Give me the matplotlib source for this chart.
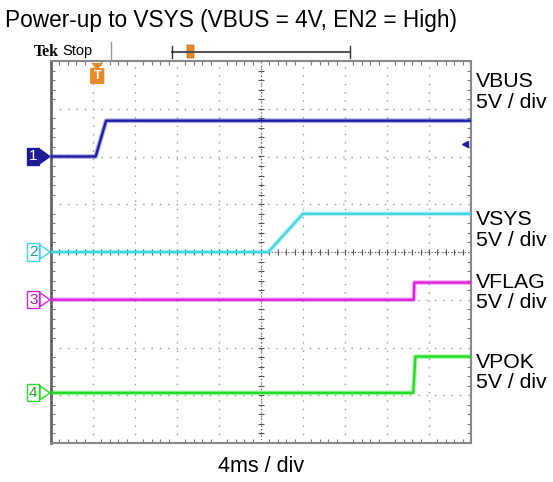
import numpy as np
import matplotlib.pyplot as plt
from matplotlib.patches import Polygon, FancyBboxPatch
from matplotlib.lines import Line2D

plt.rcParams['font.family'] = ['Liberation Sans', 'DejaVu Sans']

# scope settings: 4 ms/div, 5 V/div, 10 x 8 divisions
ms_per_div = 4
volts_per_div = 5

# breakpoints of each trace (time in ms, level in V)
vbus_t = [0, 4.25, 5.25, 40]
vbus_v = [0, 0, 3.75, 3.75]
vsys_t = [0, 20.7, 24.0, 40]
vsys_v = [0, 0, 4.0, 4.0]
vflag_t = [0, 34.55, 34.6, 40]
vflag_v = [0, 0, 1.8, 1.8]
vpok_t = [0, 34.5, 34.7, 40]
vpok_v = [0, 0, 3.8, 3.8]

# channel ground offsets in divisions
offsets = [2.0, 0.0, -1.0, -2.95]
names = ['VBUS', 'VSYS', 'VFLAG', 'VPOK']
colors = ['#1c1ca8', '#3fd7e0', '#e020e0', '#22dd22']
text_colors = ['white', '#2a9aa0', '#a020a0', '#20a020']
trigger_ms = 4.4

fig = plt.figure(figsize=(5.53, 4.82), dpi=100)
ax = fig.add_axes([51 / 553, 1 - 443 / 482, 420 / 553, 382 / 482])
ax.set_xlim(0, 10 * ms_per_div)
ax.set_ylim(-4, 4)

# graticule
ax.set_xticks(np.arange(0, 41, ms_per_div))
ax.set_yticks(np.arange(-4, 5, 1))
ax.set_xticks(np.arange(0, 40.01, ms_per_div / 5), minor=True)
ax.set_yticks(np.arange(-4, 4.01, 0.2), minor=True)
ax.tick_params(which='both', direction='in', top=True, right=True,
               labelbottom=False, labelleft=False, color='#777777')
ax.tick_params(which='major', length=0)
ax.tick_params(which='minor', length=3, width=0.8)
ax.grid(True, which='major', color='#999999', linestyle=(0, (1, 5)), linewidth=1)
for s in ax.spines.values():
    s.set_color('#888888')
    s.set_linewidth(1.5)
ax.spines['left'].set_color('#666666')
ax.spines['left'].set_linewidth(2)

# center crosshair with fine ticks
ax.axhline(0, color='#555555', linestyle=(0, (1, 2)), linewidth=0.8)
ax.axvline(20, color='#555555', linestyle=(0, (1, 2)), linewidth=0.8)
fine_x = np.arange(0, 40.01, ms_per_div / 5)
fine_y = np.arange(-4, 4.01, 0.2)
ax.plot(fine_x, np.zeros_like(fine_x), linestyle='none', marker='|', ms=4, color='#555555', mew=0.8)
ax.plot(np.full_like(fine_y, 20), fine_y, linestyle='none', marker='_', ms=4, color='#555555', mew=0.8)

# traces
traces = [(vbus_t, vbus_v), (vsys_t, vsys_v), (vflag_t, vflag_v), (vpok_t, vpok_v)]
for (t, v), off, c in zip(traces, offsets, colors):
    y = off + np.array(v) / volts_per_div
    ax.plot(t, y, color=c, linewidth=3.4, alpha=0.35, solid_capstyle='butt', zorder=4)
    ax.plot(t, y, color=c, linewidth=1.7, solid_capstyle='butt', zorder=5)

# ch1 reference arrow on right edge
ax.plot(39.4, 2.26, marker='<', color='#1c1ca8', ms=5, zorder=6, clip_on=False)

# channel markers on left
for i, (off, c, tc) in enumerate(zip(offsets, colors, text_colors)):
    yf = 1 - (61 + (4 - off) * 47.75) / 482
    fc = '#1c1c8c' if i == 0 else 'white'
    fig.text(29 / 553, yf, str(i + 1), color=tc, fontsize=11, ha='left', va='center',
             bbox=dict(boxstyle='square,pad=0.1', fc=fc, ec=c, lw=1))
    fig.add_artist(Polygon([[40 / 553, yf + 7 / 482], [50 / 553, yf], [40 / 553, yf - 7 / 482]],
                           closed=True, fc=fc, ec=c, lw=1, transform=fig.transFigure))

# right-hand labels
label_y = [81, 220, 282, 362]
for name, ly in zip(names, label_y):
    fig.text(476 / 553, 1 - ly / 482, name, fontsize=15.3, va='center', ha='left')
    fig.text(476 / 553, 1 - (ly + 21) / 482, '5V / div', fontsize=15.3, va='center', ha='left')

fig.text(261 / 553, 1 - 467 / 482, f'{ms_per_div}ms / div', fontsize=15.5, ha='center', va='center')
fig.text(5 / 553, 1 - 20 / 482, 'Power-up to VSYS (VBUS = 4V, EN2 = High)', fontsize=16.3,
         ha='left', va='center')

# Tek header
fig.text(34 / 553, 1 - 52 / 482, 'Tek', fontsize=11.5, fontweight='bold', family='Liberation Serif',
         ha='left', va='center')
fig.text(62 / 553, 1 - 51 / 482, 'Stop', fontsize=10.5, ha='left', va='center')
fig.add_artist(Line2D([111 / 553, 111 / 553], [1 - 42 / 482, 1 - 60 / 482], color='#999999', lw=1))
fig.add_artist(Line2D([172 / 553, 350 / 553], [1 - 52 / 482] * 2, color='#555555', lw=1.5))
for xb in (172, 350):
    fig.add_artist(Line2D([xb / 553] * 2, [1 - 46 / 482, 1 - 58 / 482], color='#333333', lw=1))
orange = '#e88a2a'
fig.add_artist(FancyBboxPatch((187 / 553, 1 - 58 / 482), 7 / 553, 13 / 482,
                              boxstyle='round,pad=0', fc=orange, ec='#c06010', lw=0.5))

# trigger marker
tx = (51 + trigger_ms / ms_per_div * 42) / 553
fig.add_artist(Polygon([[tx - 6 / 553, 1 - 63 / 482], [tx + 6 / 553, 1 - 63 / 482], [tx, 1 - 70 / 482]],
                       closed=True, fc=orange, ec='none'))
fig.add_artist(FancyBboxPatch((tx - 6 / 553, 1 - 83 / 482), 12 / 553, 14 / 482,
                              boxstyle='round,pad=0.002', fc=orange, ec='none'))
fig.text(tx, 1 - 76 / 482, 'T', color='white', fontsize=9, fontweight='bold', ha='center', va='center')

fig.savefig('out.png', dpi=100)
